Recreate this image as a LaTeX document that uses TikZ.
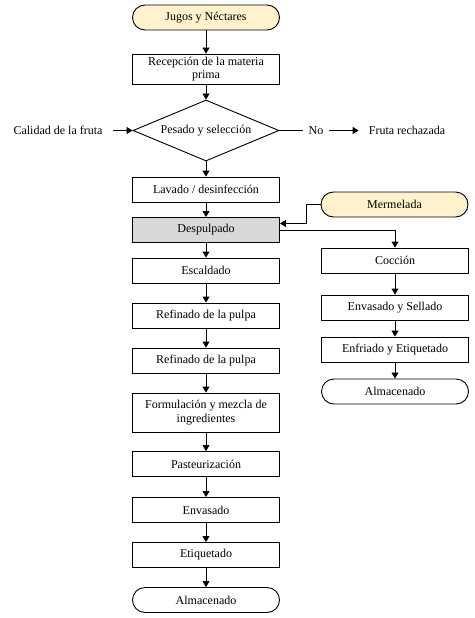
\documentclass[tikz,border=0pt]{standalone}
\usepackage{fontspec}
\setmainfont{Liberation Serif}
\usepackage{tikz}
\usetikzlibrary{arrows.meta,shapes,positioning,calc}

\definecolor{crema}{HTML}{FFF2CC}
\definecolor{gris}{HTML}{D9D9D9}

\tikzset{
	caja/.style={draw, line width=0.9pt, minimum width=147pt, minimum height=25pt, inner sep=2pt, align=center, font=\fontsize{12}{13.5}\selectfont},
	inicio/.style={caja, rounded corners=12.5pt},
	rombo/.style={draw, line width=0.9pt, diamond, aspect=2.4, inner sep=0pt, minimum width=146pt, minimum height=61pt, font=\fontsize{12}{13.5}\selectfont},
	texto/.style={inner sep=0pt, font=\fontsize{12}{13.5}\selectfont},
	flecha/.style={line width=0.9pt, -{Triangle[width=7pt,length=6pt]}},
	linea/.style={line width=0.9pt}
}

\begin{document}
\begin{tikzpicture}[x=1pt,y=-1pt]
		\useasboundingbox (0,0) rectangle (474,618);
		% columna principal
		\node[inicio, fill=crema] (jugos) at (206,17.5) {Jugos y Néctares};
		\node[caja, minimum height=30pt] (recep) at (206,69) {Recepción de la materia\\prima};
		\node[rombo] (pesado) at (206,130.5) {Pesado y selección};
		\node[texto] (calidad) at (58,130.5) {Calidad de la fruta};
		\node[texto] (no) at (316,130.5) {No};
		\node[texto] (rechazo) at (407,130.5) {Fruta rechazada};
		\node[caja] (lavado) at (206,189.5) {Lavado / desinfección};
		\node[caja, fill=gris] (desp) at (206,230) {Despulpado};
		\node[caja] (escal) at (206,270.5) {Escaldado};
		\node[caja] (ref1) at (206,315.5) {Refinado de la pulpa};
		\node[caja] (ref2) at (206,360.5) {Refinado de la pulpa};
		\node[caja, minimum height=39pt] (formu) at (206,412.5) {Formulación y mezcla de\\ingredientes};
		\node[caja] (pasteur) at (206,464) {Pasteurización};
		\node[caja] (envas) at (206,510) {Envasado};
		\node[caja] (etiq) at (206,555) {Etiquetado};
		\node[inicio] (almac) at (206,600) {Almacenado};
		% columna de la mermelada
		\node[inicio, fill=crema] (merme) at (394.5,204.5) {Mermelada};
		\node[caja] (coccion) at (395,260.5) {Cocción};
		\node[caja] (sellado) at (395,307.5) {Envasado y Sellado};
		\node[caja] (enfriado) at (395,349.5) {Enfriado y Etiquetado};
		\node[inicio] (almac2) at (395,391.5) {Almacenado};
		% conectores
		\draw[flecha] (jugos)--(recep);
		\draw[flecha] (recep)--(pesado);
		\draw[flecha] ([xshift=10pt]calidad.east)--(pesado.west);
		\draw[linea] (pesado.east)--([xshift=-5pt]no.west);
		\draw[flecha] ([xshift=5pt]no.east)--([xshift=-10pt]rechazo.west);
		\draw[flecha] (pesado)--(lavado);
		\draw[flecha] (lavado)--(desp);
		\draw[flecha] (merme.west)--++(-14pt,0)|-([yshift=6.5pt]desp.east);
		\draw[flecha] (desp.east)-|(coccion.north);
		\draw[flecha] (desp)--(escal);
		\draw[flecha] (escal)--(ref1);
		\draw[flecha] (ref1)--(ref2);
		\draw[flecha] (ref2)--(formu);
		\draw[flecha] (formu)--(pasteur);
		\draw[flecha] (pasteur)--(envas);
		\draw[flecha] (envas)--(etiq);
		\draw[flecha] (etiq)--(almac);
		\draw[flecha] (coccion)--(sellado);
		\draw[flecha] (sellado)--(enfriado);
		\draw[flecha] (enfriado)--(almac2);
\end{tikzpicture}
\end{document}
